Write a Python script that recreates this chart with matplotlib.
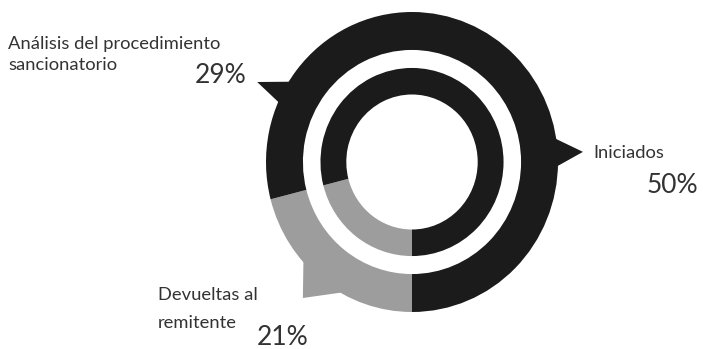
import numpy as np
import matplotlib
matplotlib.use("Agg")
import matplotlib.pyplot as plt

# share of cases per stage, clockwise from the top
labels = [["Iniciados"], ["Devueltas al", "remitente"],
          ["Análisis del procedimiento", "sancionatorio"]]
values = [50, 21, 29]
pct_text = ["50%", "21%", "29%"]

dark = "#1b1b1b"
grey = "#9d9d9d"
outer_colors = [dark, grey, dark]
inner_colors = [dark, grey, dark]

W, H = 703, 349
cx, cy = 412, 162          # ring centre, px
sx, sy = 146, 150          # px per data unit

fig = plt.figure(figsize=(W / 100, H / 100), dpi=100)
ax = fig.add_axes([0, 0, 1, 1])

ax.pie(values, startangle=90, counterclock=False, radius=1.0,
       colors=outer_colors, wedgeprops=dict(width=0.253, linewidth=0))
ax.pie(values, startangle=90, counterclock=False, radius=0.627,
       colors=inner_colors, wedgeprops=dict(width=0.177, linewidth=0))

ax.set_aspect("auto")
ax.set_xlim(-cx / sx, (W - cx) / sx)
ax.set_ylim(-(H - cy) / sy, cy / sy)
ax.axis("off")


def pointer(a1, a2, tip_a, tip_r, color):
    # small triangle sticking out of the outer ring
    a1, a2, tip_a = np.radians([a1, a2, tip_a])
    xs = [0.97 * np.cos(a1), tip_r * np.cos(tip_a), 0.97 * np.cos(a2)]
    ys = [0.97 * np.sin(a1), tip_r * np.sin(tip_a), 0.97 * np.sin(a2)]
    ax.fill(xs, ys, color=color, lw=0)


pointer(-2.5, 10, 3.3, 1.173, outer_colors[0])
pointer(220, 243, 230.5, 1.175, outer_colors[1])
pointer(146.5, 157, 153.3, 1.187, outer_colors[2])

font = ["Lato", "DejaVu Sans"]
txt = "#333333"


def put(x, y, s, size, ha="left"):
    fig.text(x / W, 1 - y / H, s, fontsize=size, ha=ha, va="baseline",
             color=txt, family=font, fontweight="normal")


def put_lines(x, ys, lines, size=13.2):
    for y, s in zip(ys, lines):
        put(x, y, s, size)


# Iniciados
put_lines(593, [158], labels[0])
put(698, 193, pct_text[0], 19, ha="right")
# Devueltas
put_lines(158, [300, 328], labels[1])
put(308, 345, pct_text[1], 19, ha="right")
# Análisis
put_lines(8, [49, 70], labels[2])
put(246, 83, pct_text[2], 19, ha="right")

fig.savefig("out.png", dpi=100)
